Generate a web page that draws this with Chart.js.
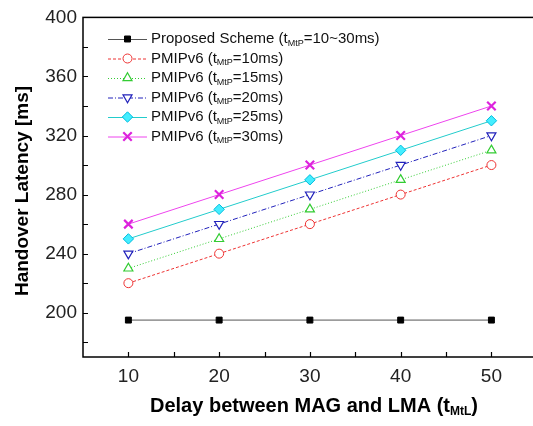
<!DOCTYPE html>
<html><head><meta charset="utf-8">
<script src="https://cdn.jsdelivr.net/npm/chart.js@4/dist/chart.umd.min.js"></script>
<style>html,body{margin:0;padding:0;background:#fff;overflow:hidden}#wrap{width:545px;height:426px}</style>
</head><body><div id="wrap"><canvas id="c" width="545" height="426"></canvas></div>
<script>
const delays=[10,20,30,40,50];
const proposed=[195,195,195,195,195];
const pmip10=[220,240,260,280,300];
const pmip15=[230,250,270,290,310];
const pmip20=[240,260,280,300,320];
const pmip25=[250,270,290,310,330];
const pmip30=[260,280,300,320,340];
const yTicks=[200,240,280,320,360,400];
const yMinor=[180,220,260,300,340,380];
const xTicks=[10,20,30,40,50];
const xMinor=[15,25,35,45];
const legendLabels=[
 ['Proposed Scheme (t','MtP','=10~30ms)'],
 ['PMIPv6 (t','MtP','=10ms)'],
 ['PMIPv6 (t','MtP','=15ms)'],
 ['PMIPv6 (t','MtP','=20ms)'],
 ['PMIPv6 (t','MtP','=25ms)'],
 ['PMIPv6 (t','MtP','=30ms)']
];
const FONT='"Liberation Sans", Arial, Helvetica, sans-serif';
function pts(arr){return delays.map((x,i)=>({x:x,y:arr[i]}));}
const styles=[
 {color:'#555555',pc:'#000000',fill:'#000000',ps:'rect',r:4.2,rot:0,dash:[],bw:1},
 {color:'#ee3333',pc:'#ee3333',fill:'#ffffff',ps:'circle',r:4.5,rot:0,dash:[3,2],bw:1},
 {color:'#33cc33',pc:'#33cc33',fill:'#ffffff',ps:'triangle',r:5.2,rot:0,dash:[1,2],bw:1.2},
 {color:'#2222bb',pc:'#2222bb',fill:'#ffffff',ps:'triangle',r:5.2,rot:180,dash:[5,2,1,2],bw:1.2},
 {color:'#22cccc',pc:'#00bbdd',fill:'#44eeff',ps:'rectRot',r:5.2,rot:0,dash:[],bw:1},
 {color:'#ee44ee',pc:'#dd22dd',fill:'#dd22dd',ps:'crossRot',r:6,rot:0,dash:[],bw:2.2}
];
const series=[proposed,pmip10,pmip15,pmip20,pmip25,pmip30];
const datasets=series.map((s,i)=>{const st=styles[i];return {
 label:legendLabels[i].join(''),data:pts(s),borderColor:st.color,borderWidth:1,borderDash:st.dash,
 pointStyle:st.ps,pointRadius:st.r,pointRotation:st.rot,pointBackgroundColor:st.fill,pointBorderColor:st.pc,
 pointBorderWidth:st.bw,fill:false,tension:0};});

function drawRich(ctx,parts,x,y,size,bold){
 const w=bold?'bold ':'';
 let cx=x;
 parts.forEach((p,i)=>{
  const sub=(i%2===1);
  ctx.font=w+(sub?Math.round(size*0.62):size)+'px '+FONT;
  ctx.fillText(p,cx,sub?y+size*0.3:y);
  cx+=ctx.measureText(p).width;
 });
 return cx-x;
}
function richWidth(ctx,parts,size,bold){
 const w=bold?'bold ':'';let t=0;
 parts.forEach((p,i)=>{const sub=(i%2===1);ctx.font=w+(sub?Math.round(size*0.62):size)+'px '+FONT;t+=ctx.measureText(p).width;});
 return t;
}
function marker(ctx,st,x,y){
 if(Chart.helpers&&Chart.helpers.drawPoint){
  ctx.save();ctx.setLineDash([]);ctx.fillStyle=st.fill;ctx.strokeStyle=st.pc;ctx.lineWidth=st.bw;
  Chart.helpers.drawPoint(ctx,{pointStyle:st.ps,radius:st.r,rotation:st.rot,borderWidth:st.bw},x,y);
  ctx.restore();
 }
}
const deco={id:'deco',afterDraw(chart){
 const ctx=chart.ctx,a=chart.chartArea,xs=chart.scales.x,ys=chart.scales.y;
 ctx.save();
 ctx.strokeStyle='#000';ctx.lineWidth=1.5;ctx.setLineDash([]);
 ctx.strokeRect(a.left,a.top,a.right-a.left,a.bottom-a.top);
 ctx.lineWidth=1.2;
 ctx.beginPath();
 yTicks.concat(yMinor).forEach(v=>{const p=Math.round(ys.getPixelForValue(v))+0.5;ctx.moveTo(a.left,p);ctx.lineTo(a.left+5,p);});
 xTicks.concat(xMinor).forEach(v=>{const p=Math.round(xs.getPixelForValue(v))+0.5;ctx.moveTo(p,a.bottom);ctx.lineTo(p,a.bottom-5);});
 ctx.stroke();
 // legend
 const lx0=108,lx1=147,mx=127.5,tx=151,ly0=39,dy=19.5;
 ctx.textBaseline='middle';ctx.fillStyle='#111';
 styles.forEach((st,i)=>{
  const y=ly0+i*dy;
  ctx.strokeStyle=st.color;ctx.lineWidth=1;ctx.setLineDash(st.dash);
  ctx.beginPath();ctx.moveTo(lx0,y+0.5);ctx.lineTo(lx1,y+0.5);ctx.stroke();
  marker(ctx,st,mx,y);
  ctx.fillStyle='#111';ctx.textAlign='left';
  drawRich(ctx,legendLabels[i],tx,y,15,false);
 });
 // x title
 const xt=['Delay between MAG and LMA (t','MtL',')'];
 ctx.fillStyle='#000';ctx.textAlign='left';ctx.textBaseline='middle';
 drawRich(ctx,xt,150,406,20,true);
 // y title
 ctx.save();ctx.translate(23,191);ctx.rotate(-Math.PI/2);
 ctx.font='bold 19px '+FONT;ctx.textAlign='center';ctx.fillText('Handover Latency [ms]',0,0);
 ctx.restore();
 ctx.restore();
}};
new Chart(document.getElementById('c'),{
 type:'line',
 data:{datasets:datasets},
 options:{responsive:false,animation:false,devicePixelRatio:1,
  layout:{padding:{top:15,right:3,left:0,bottom:0}},
  plugins:{legend:{display:false},tooltip:{enabled:false}},
  scales:{
   x:{type:'linear',min:5,max:55,
    afterBuildTicks(s){s.ticks=xTicks.map(v=>({value:v}));},
    afterFit(s){s.height=69;},
    grid:{display:false,drawTicks:false},border:{display:false},
    ticks:{padding:8,font:{size:19,family:FONT},color:'#222'}},
   y:{type:'linear',min:170,max:400,
    afterBuildTicks(s){s.ticks=yTicks.map(v=>({value:v}));},
    afterFit(s){s.width=83;},
    grid:{display:false,drawTicks:false},border:{display:false},
    ticks:{padding:6,font:{size:19,family:FONT},color:'#222'}}
  }
 },
 plugins:[deco]
});
</script></body></html>
